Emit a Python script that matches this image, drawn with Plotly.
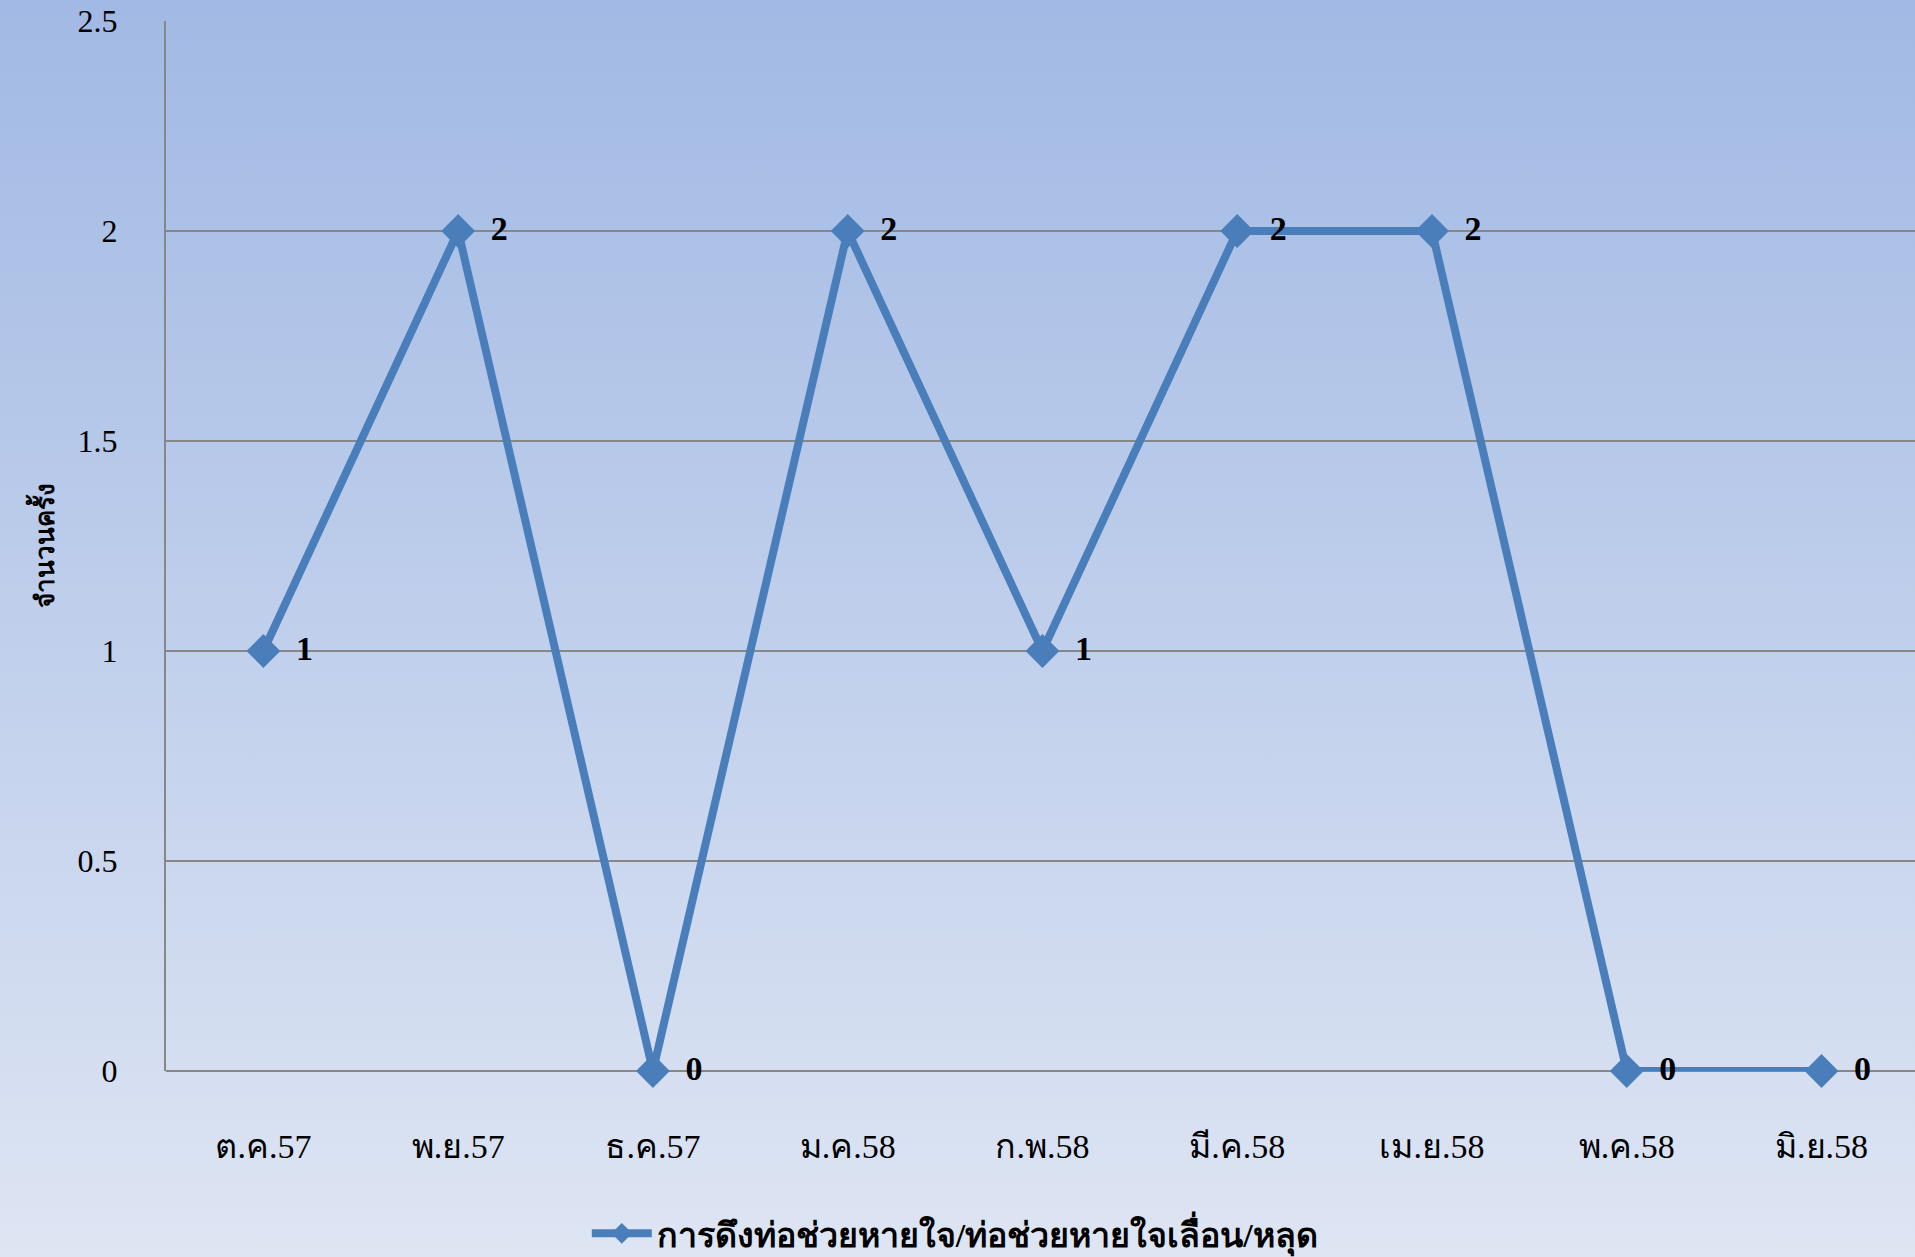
import base64
import plotly.graph_objects as go

# Monthly counts of endotracheal tube pull-outs / displacement
months = ["ต.ค.57", "พ.ย.57", "ธ.ค.57", "ม.ค.58", "ก.พ.58",
          "มี.ค.58", "เม.ย.58", "พ.ค.58", "มิ.ย.58"]
counts = [1, 2, 0, 2, 1, 2, 2, 0, 0]
series_name = "การดึงท่อช่วยหายใจ/ท่อช่วยหายใจเลื่อน/หลุด"
y_title = "จำนวนครั้ง"
y_ticks = [0, 0.5, 1, 1.5, 2, 2.5]

SERIF = "Liberation Serif, Times New Roman, serif"
LINE = "#4A7EBB"
W, H = 1915, 1257
L, R, T, B = 166, 0, 21, 186

fig = go.Figure()
fig.add_trace(go.Scatter(
    x=months, y=counts, name=series_name,
    mode="lines+markers+text",
    line=dict(color=LINE, width=8),
    marker=dict(symbol="diamond", size=26, color=LINE),
    text=[f" &#8201;<b>{v}</b>" for v in counts],
    textposition="middle right",
    textfont=dict(family=SERIF, size=34, color="black"),
    cliponaxis=False,
))

# vertical gradient for the whole page, as an SVG image behind the plot
svg = (
    '<svg xmlns="http://www.w3.org/2000/svg" width="100" height="100" preserveAspectRatio="none">'
    '<defs><linearGradient id="g" x1="0" y1="0" x2="0" y2="1">'
    '<stop offset="0" stop-color="#A1B9E4"/>'
    '<stop offset="1" stop-color="#DEE5F3"/>'
    '</linearGradient></defs>'
    '<rect width="100" height="100" fill="url(#g)"/></svg>'
)
bg_src = "data:image/svg+xml;base64," + base64.b64encode(svg.encode()).decode()
pw, ph = W - L - R, H - T - B

fig.update_layout(
    width=W, height=H,
    margin=dict(l=L, r=R, t=T, b=B, autoexpand=False),
    paper_bgcolor="#C0CFEC",
    plot_bgcolor="rgba(0,0,0,0)",
    images=[dict(source=bg_src, xref="paper", yref="paper",
                 x=-L / pw, y=1 + T / ph, sizex=W / pw, sizey=H / ph,
                 xanchor="left", yanchor="top", sizing="stretch", layer="below")],
    showlegend=True,
    legend=dict(orientation="h", x=0.451, xanchor="center", y=-0.155, yanchor="middle",
                font=dict(family=SERIF, size=34, color="black", weight="bold"),
                bgcolor="rgba(0,0,0,0)", itemwidth=60),
    xaxis=dict(range=[-0.5, 8.48], showgrid=False, showline=False, zeroline=False,
               tickfont=dict(family=SERIF, size=34, color="black"),
               ticks="", ticklabelstandoff=52),
    yaxis=dict(range=[0, 2.5], tickvals=y_ticks, ticktext=[f"{v:g}" for v in y_ticks],
               showgrid=True, gridcolor="#878787", gridwidth=2,
               showline=True, linecolor="#878787", linewidth=2,
               zeroline=True, zerolinecolor="#878787", zerolinewidth=2,
               tickfont=dict(family=SERIF, size=32, color="black"),
               ticks="", ticklabelstandoff=40,
               title=dict(text=f"<b>{y_title}</b>", standoff=15,
                          font=dict(family=SERIF, size=26, color="black"))),
)

fig.write_html("out.html")
